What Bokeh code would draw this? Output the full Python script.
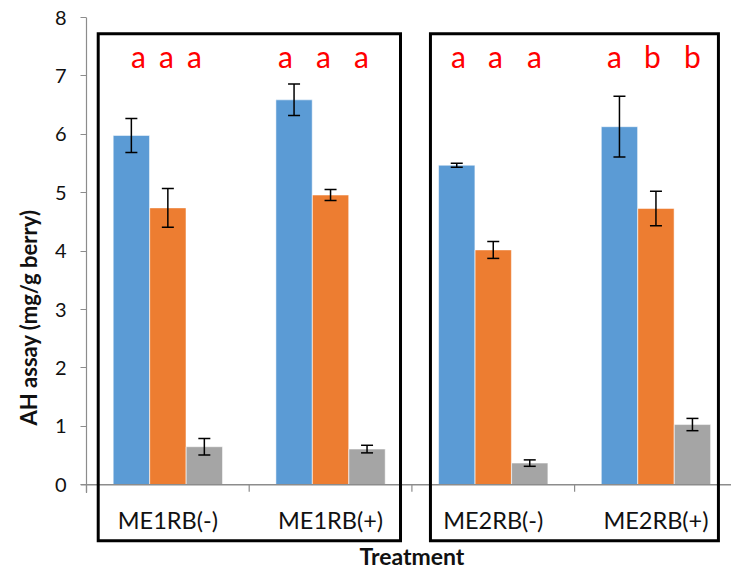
import numpy as np
from bokeh.plotting import figure
from bokeh.models import ColumnDataSource, Range1d, FixedTicker, Whisker, TeeHead, Title
from bokeh.core.properties import value
from bokeh.embed import file_html
from bokeh.resources import INLINE

# ---------------- data ----------------
treatments = ["ME1RB(-)", "ME1RB(+)", "ME2RB(-)", "ME2RB(+)"]
blue_vals = [5.98, 6.59, 5.47, 6.13]
blue_err = [0.29, 0.27, 0.035, 0.52]
orange_vals = [4.74, 4.96, 4.02, 4.73]
orange_err = [0.33, 0.095, 0.145, 0.295]
gray_vals = [0.65, 0.61, 0.37, 1.03]
gray_err = [0.14, 0.065, 0.055, 0.105]
sig_letters = [["a", "a", "a"], ["a", "a", "a"], ["a", "a", "a"], ["a", "b", "b"]]
y_ticks = [0, 1, 2, 3, 4, 5, 6, 7, 8]
y_title = "AH assay (mg/g berry)"
x_title = "Treatment"

# ---------------- layout / style ----------------
FONT = "Lato"
BAR_W = 0.223
OFFSETS = [-0.2243, 0.0, 0.2243]
COLORS = ["#5B9BD5", "#ED7D31", "#A5A5A5"]
LETTER_DX = [[-0.181, -0.009, 0.163], [-0.277, -0.043, 0.190],
             [-0.214, 0.014, 0.254], [-0.255, -0.022, 0.224]]
AXIS_GRAY = "#8C8C8C"

W, H = 731, 572
BL, BT = 80, 17
px_x = 162.7   # px per category
px_y = 58.4    # px per y unit
x0 = -6 / px_x
x1 = x0 + (W - BL) / px_x
y1 = 8.0
y0 = y1 - (H - BT) / px_y

p = figure(width=W, height=H, output_backend="svg", toolbar_location=None,
           x_range=Range1d(x0, x1), y_range=Range1d(y0, y1 + 1e-6),
           min_border_left=BL, min_border_top=BT, min_border_right=0, min_border_bottom=0)
p.xaxis.visible = False
p.grid.visible = False
p.outline_line_color = None
p.background_fill_color = "white"
p.border_fill_color = "white"

yax = p.yaxis[0]
yax.ticker = FixedTicker(ticks=y_ticks)
yax.axis_line_color = None
yax.major_tick_in = 6
yax.major_tick_out = 0
yax.major_tick_line_color = AXIS_GRAY
yax.major_tick_line_width = 1
yax.minor_tick_line_color = None
yax.major_label_standoff = 14
yax.major_label_text_font = FONT
yax.major_label_text_font_size = "20px"
yax.major_label_text_color = "#111111"

n = len(treatments)
centers = np.arange(n) + 0.5

# bars + error bars
series = [(blue_vals, blue_err), (orange_vals, orange_err), (gray_vals, gray_err)]
for (vals, errs), off, col in zip(series, OFFSETS, COLORS):
    v = np.array(vals)
    e = np.array(errs)
    src = ColumnDataSource(dict(x=centers + off, top=v, upper=v + e, lower=v - e))
    p.vbar(x="x", top="top", bottom=0, width=BAR_W, source=src,
           fill_color=col, line_color="white", line_alpha=0.5, line_width=1)
    p.add_layout(Whisker(source=src, base="x", upper="upper", lower="lower",
                         level="overlay", line_color="black", line_width=1.5,
                         upper_head=TeeHead(size=12, line_color="black", line_width=1.5),
                         lower_head=TeeHead(size=12, line_color="black", line_width=1.5)))

# significance letters
lx, ly, lt = [], [], []
for i, (row, dxs) in enumerate(zip(sig_letters, LETTER_DX)):
    for t, dx in zip(row, dxs):
        lx.append(centers[i] + dx)
        ly.append(7.345)
        lt.append(t)
p.text(x=lx, y=ly, text=lt, text_color="#FF0000", text_font=value(FONT),
       text_font_size="30px", text_align="center", text_baseline="alphabetic")

# drawn axis lines (y axis line at x=0, x axis at y=0 with boundary ticks)
p.segment(x0=[0], y0=[-0.144], x1=[0], y1=[y1], line_color=AXIS_GRAY, line_width=1.2)
p.segment(x0=[x0], y0=[0], x1=[x1], y1=[0], line_color=AXIS_GRAY, line_width=1.5)
bnd = np.arange(n + 1)
p.segment(x0=bnd, y0=[0] * (n + 1), x1=bnd, y1=[-7 / px_y] * (n + 1),
          line_color=AXIS_GRAY, line_width=1.2)

# category labels
p.text(x=centers, y=[-0.611] * n, text=treatments, text_color="#111111",
       text_font=value(FONT), text_font_size="23.5px", text_align="center",
       text_baseline="alphabetic")

# group boxes
p.quad(left=[0.072, 2.114], right=[1.930, 3.884], top=[7.72, 7.72], bottom=[-0.959, -0.959],
       fill_color=None, line_color="black", line_width=3, line_join="miter")

# x title
p.text(x=[n / 2], y=[-1.225], text=[x_title], text_color="#111111",
       text_font=value(FONT), text_font_style="bold", text_font_size="23px",
       text_align="center", text_baseline="alphabetic")

# y title as a left-side Title
p.add_layout(Title(text=y_title, align="left", offset=147, standoff=20,
                   text_font=FONT, text_font_style="bold", text_font_size="22px",
                   text_color="#111111"), "left")

open("out.html", "w").write(file_html(p, INLINE))
